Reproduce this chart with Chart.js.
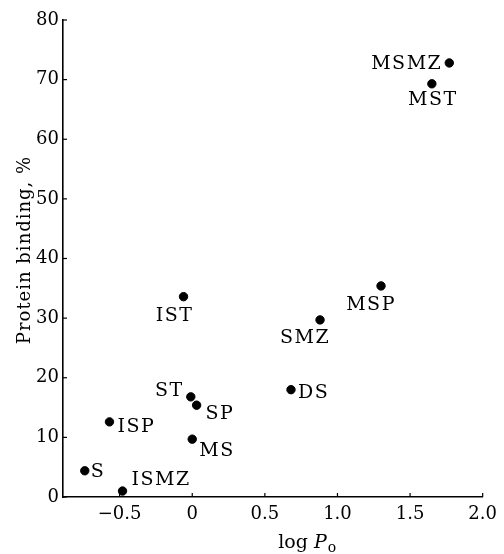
<!DOCTYPE html>
<html>
<head>
<meta charset="utf-8">
<script src="https://cdn.jsdelivr.net/npm/chart.js@4.4.0/dist/chart.umd.min.js"></script>
<style>
  html, body { margin: 0; padding: 0; background: #fff; }
  #wrap { width: 504px; height: 554px; position: relative; }
</style>
</head>
<body>
<div id="wrap"><canvas id="myChart"></canvas></div>
<script>
// sulfonamides: name, log Po, protein binding %
const drugs   = ['MSMZ', 'MST', 'MSP', 'SMZ', 'IST', 'DS', 'ST', 'SP', 'MS', 'ISP', 'S', 'ISMZ'];
const logPo   = [1.77, 1.65, 1.30, 0.88, -0.06, 0.68, -0.01, 0.03, 0.00, -0.57, -0.74, -0.48];
const binding = [72.8, 69.3, 35.4, 29.7, 33.6, 18.0, 16.8, 15.4, 9.7, 12.6, 4.4, 1.0];

const xTicks = [-0.5, 0, 0.5, 1.0, 1.5, 2.0];
const xTickLabels = ['\u22120.5', '0', '0.5', '1.0', '1.5', '2.0'];
const yTicks = [0, 10, 20, 30, 40, 50, 60, 70, 80];

// where each name sits next to its dot: [align, dx, dy]
const labelPlace = [
  ['right', -7, 1], ['center', 1, 16], ['center', -10, 19], ['center', -15, 18],
  ['center', -9, 19], ['left', 7, 3], ['right', -7, -6], ['left', 9, 9],
  ['left', 7, 12], ['left', 8, 5], ['left', 6, 1], ['left', 9, -11]
];

const serif = '"DejaVu Serif", serif';

const extras = {
  id: 'extras',
  afterDatasetsDraw(chart) {
    const ctx = chart.ctx;
    const xs = chart.scales.x, ys = chart.scales.y;
    const a = chart.chartArea;
    ctx.save();
    // inward tick marks
    ctx.strokeStyle = '#000';
    ctx.lineWidth = 1.2;
    xTicks.forEach(v => {
      const px = xs.getPixelForValue(v);
      ctx.beginPath(); ctx.moveTo(px, a.bottom); ctx.lineTo(px, a.bottom - 4); ctx.stroke();
    });
    yTicks.forEach(v => {
      const py = ys.getPixelForValue(v);
      ctx.beginPath(); ctx.moveTo(a.left, py); ctx.lineTo(a.left + 4, py); ctx.stroke();
    });

    // point names
    ctx.fillStyle = '#000';
    ctx.font = '19px ' + serif;
    ctx.letterSpacing = '1.5px';
    ctx.textBaseline = 'middle';
    const meta = chart.getDatasetMeta(0);
    meta.data.forEach((pt, i) => {
      const p = labelPlace[i];
      ctx.textAlign = p[0];
      ctx.fillText(drugs[i], pt.x + p[1], pt.y + p[2]);
    });

    // y title
    ctx.save();
    ctx.translate(25, 250);
    ctx.rotate(-Math.PI / 2);
    ctx.textAlign = 'center';
    ctx.letterSpacing = '1px';
    ctx.font = '18px ' + serif;
    ctx.fillText('Protein binding, %', 0, 0);
    ctx.restore();

    // x title: log P_o
    ctx.letterSpacing = '0px';
    ctx.textAlign = 'left';
    ctx.textBaseline = 'alphabetic';
    const cx = (xs.getPixelForValue(0.5) + xs.getPixelForValue(1.0)) / 2 + 6;
    const base = 548;
    ctx.font = '19px ' + serif;
    const w1 = ctx.measureText('log ').width;
    ctx.font = 'italic 19px ' + serif;
    const w2 = ctx.measureText('P').width;
    ctx.font = '14px ' + serif;
    const w3 = ctx.measureText('o').width;
    let x0 = cx - (w1 + w2 + w3 + 1) / 2;
    ctx.font = '19px ' + serif;
    ctx.fillText('log ', x0, base);
    ctx.font = 'italic 19px ' + serif;
    ctx.fillText('P', x0 + w1, base);
    ctx.font = '14px ' + serif;
    ctx.fillText('o', x0 + w1 + w2 + 1, base + 4);
    ctx.restore();
  }
};

new Chart(document.getElementById('myChart'), {
  type: 'scatter',
  data: {
    datasets: [{
      label: 'Protein binding',
      data: logPo.map((x, i) => ({ x: x, y: binding[i] })),
      backgroundColor: '#000',
      borderColor: '#000',
      pointRadius: 4.2,
      pointHoverRadius: 4.2
    }]
  },
  options: {
    responsive: true,
    maintainAspectRatio: false,
    animation: false,
    events: [],
    layout: { padding: { top: 20, right: 18, left: 0, bottom: 0 } },
    plugins: { legend: { display: false }, tooltip: { enabled: false } },
    scales: {
      x: {
        type: 'linear',
        min: -0.89,
        max: 2.0,
        afterBuildTicks: s => { s.ticks = xTicks.map(v => ({ value: v })); },
        afterFit: s => { s.height = 57; },
        grid: { display: true, drawOnChartArea: false, drawTicks: false, tickLength: 0 },
        border: { display: true, color: '#000', width: 1.6 },
        ticks: {
          color: '#000',
          padding: 7,
          maxRotation: 0,
          autoSkip: false,
          font: { family: serif, size: 18 },
          callback: (v) => xTickLabels[xTicks.indexOf(v)]
        }
      },
      y: {
        type: 'linear',
        min: 0,
        max: 80,
        afterBuildTicks: s => { s.ticks = yTicks.map(v => ({ value: v })); },
        afterFit: s => { s.width = 63; },
        grid: { display: true, drawOnChartArea: false, drawTicks: false, tickLength: 0 },
        border: { display: true, color: '#000', width: 1.6 },
        ticks: {
          color: '#000',
          padding: 4,
          autoSkip: false,
          font: { family: serif, size: 18 }
        }
      }
    }
  },
  plugins: [extras]
});
</script>
</body>
</html>
